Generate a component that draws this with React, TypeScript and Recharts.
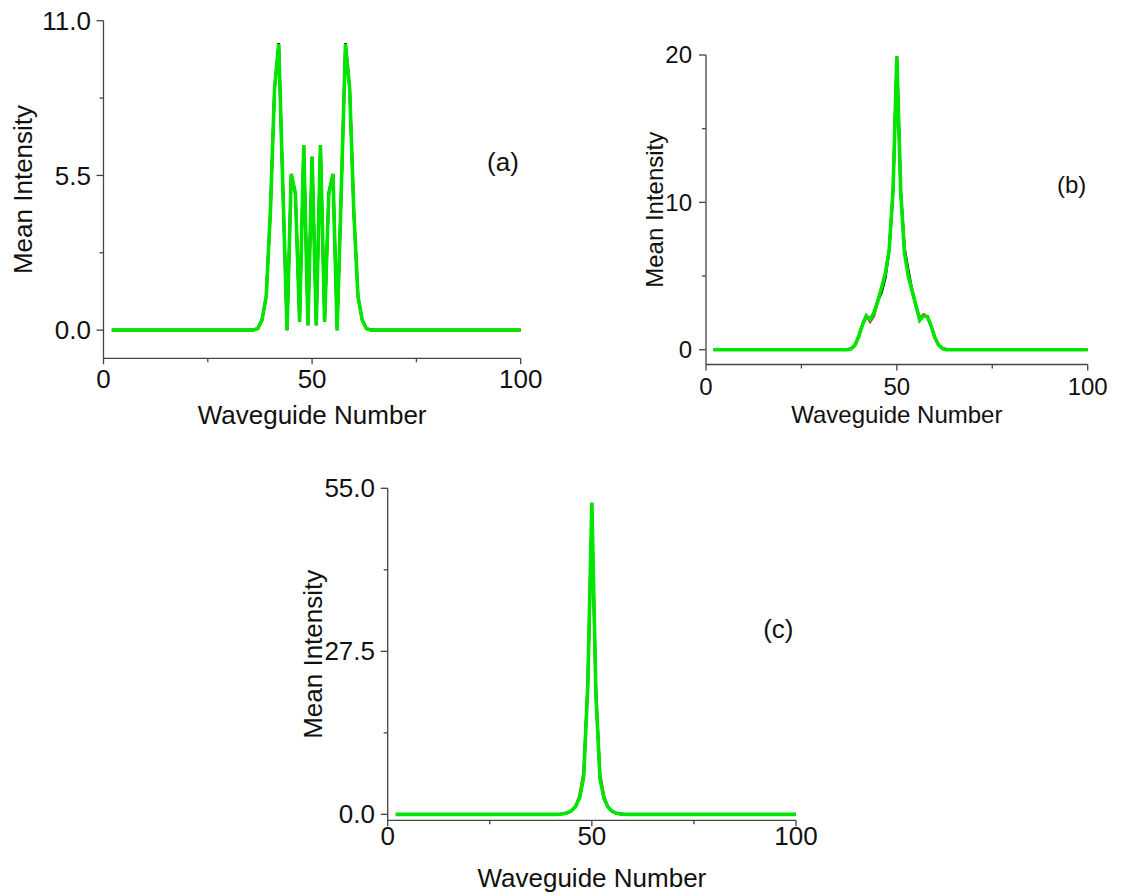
import React from 'react';
import { LineChart, Line, XAxis, YAxis } from 'recharts';

// waveguide index; flat zero stretches are only sampled at their ends
const WAVEGUIDE = [2, 34, 35, 36, 37, 38, 39, 40, 41, 42, 43, 44, 45, 46, 47, 48, 49, 50, 51, 52, 53, 54, 55, 56, 57, 58, 59, 60, 61, 62, 63, 64, 65, 66, 100];

// panel (a)
const A_BLACK = [0, 0, 0, 0.01, 0.06, 0.37, 1.2, 4.2, 8.6, 10.2, 5.0, 0, 5.55, 4.86, 0.3, 6.58, 0.18, 6.16, 0.18, 6.58, 0.3, 4.86, 5.55, 0, 5.0, 10.2, 8.6, 4.2, 1.2, 0.37, 0.06, 0.01, 0, 0, 0];
const A_RED = [0, 0, 0, 0.01, 0.06, 0.37, 1.2, 4.2, 8.6, 10.17, 5.0, 0, 5.55, 4.86, 0.3, 6.58, 0.18, 6.16, 0.18, 6.58, 0.3, 4.86, 5.55, 0, 5.0, 10.17, 8.6, 4.2, 1.2, 0.37, 0.06, 0.01, 0, 0, 0];
const A_GREEN = [0, 0, 0, 0.01, 0.06, 0.37, 1.2, 4.2, 8.6, 10.17, 5.0, 0, 5.55, 4.86, 0.3, 6.58, 0.18, 6.16, 0.18, 6.58, 0.3, 4.86, 5.55, 0, 5.0, 10.17, 8.6, 4.2, 1.2, 0.37, 0.06, 0.01, 0, 0, 0];

// panel (b)
const B_BLACK = [0, 0, 0, 0, 0.01, 0.06, 0.3, 0.9, 1.7, 2.3, 2.05, 2.5, 3.3, 3.9, 4.9, 6.8, 10.8, 19.9, 10.8, 6.9, 5.4, 4.0, 3.0, 2.0, 2.3, 2.25, 1.6, 0.8, 0.3, 0.08, 0.01, 0, 0, 0, 0];
const B_RED = [0, 0, 0, 0, 0.01, 0.06, 0.3, 0.9, 1.7, 2.3, 1.9, 2.3, 3.3, 4.2, 5.2, 6.8, 10.8, 19.9, 10.8, 6.6, 5.0, 4.0, 3.0, 2.15, 2.4, 2.25, 1.6, 0.8, 0.3, 0.08, 0.01, 0, 0, 0, 0];
const B_GREEN = [0, 0, 0, 0, 0.01, 0.06, 0.3, 0.9, 1.7, 2.3, 2.05, 2.5, 3.3, 4.2, 5.2, 6.8, 10.8, 19.9, 10.8, 6.6, 5.0, 4.0, 3.0, 2.0, 2.3, 2.25, 1.6, 0.8, 0.3, 0.08, 0.01, 0, 0, 0, 0];

// panel (c)
const C_BLACK = [0, 0, 0, 0, 0, 0, 0, 0, 0, 0.03, 0.1, 0.25, 0.6, 1.3, 2.8, 6.3, 22, 51, 21, 6, 2.6, 1.2, 0.5, 0.2, 0.08, 0.03, 0, 0, 0, 0, 0, 0, 0, 0, 0];
const C_RED = [0, 0, 0, 0, 0, 0, 0, 0, 0, 0.03, 0.1, 0.25, 0.6, 1.3, 3.2, 7.2, 21.6, 50, 20, 6.8, 3.0, 1.2, 0.5, 0.2, 0.08, 0.03, 0, 0, 0, 0, 0, 0, 0, 0, 0];
const C_GREEN = [0, 0, 0, 0, 0, 0, 0, 0, 0, 0.03, 0.1, 0.25, 0.6, 1.3, 2.8, 6.3, 21.6, 52.6, 20, 6, 2.6, 1.2, 0.5, 0.2, 0.08, 0.03, 0, 0, 0, 0, 0, 0, 0, 0, 0];

const X_TICKS = [0, 25, 50, 75, 100];
const X_MAJOR = [0, 50, 100];
const A_TICKS = [0, 2.75, 5.5, 8.25, 11];
const A_MAJOR = [0, 5.5, 11];
const B_TICKS = [0, 5, 10, 15, 20];
const B_MAJOR = [0, 10, 20];
const C_TICKS = [0, 13.75, 27.5, 41.25, 55];
const C_MAJOR = [0, 27.5, 55];

const FONT = '"Liberation Sans", Arial, sans-serif';
const INK = '#111';
const AXIS = '#444';

const build = (black: number[], red: number[], green: number[]) =>
  WAVEGUIDE.map((x, i) => ({ x, black: black[i], red: red[i], green: green[i] }));

const makeYTick = (majors: number[], digits: number, fontSize: number, gap: number) => (props: any) => {
  const { x, y, payload } = props;
  const major = majors.includes(payload.value);
  const len = major ? 7 : 4;
  return (
    <g>
      <line x1={x} y1={y} x2={x - len} y2={y} stroke={AXIS} strokeWidth={1.3} />
      {major && (
        <text x={x - gap} y={y} dy="0.35em" textAnchor="end" fontSize={fontSize} fill={INK} fontFamily={FONT}>
          {payload.value.toFixed(digits)}
        </text>
      )}
    </g>
  );
};

const makeXTick = (fontSize: number, baseline: number) => (props: any) => {
  const { x, y, payload } = props;
  const major = X_MAJOR.includes(payload.value);
  const len = major ? 6 : 4;
  return (
    <g>
      <line x1={x} y1={y} x2={x} y2={y + len} stroke={AXIS} strokeWidth={1.3} />
      {major && (
        <text x={x} y={y + baseline} textAnchor="middle" fontSize={fontSize} fill={INK} fontFamily={FONT}>
          {payload.value}
        </text>
      )}
    </g>
  );
};

const XTitle = ({ viewBox, fontSize, dy }: any) => (
  <text x={viewBox.x + viewBox.width / 2} y={viewBox.y + dy} textAnchor="middle" fontSize={fontSize} fill={INK} fontFamily={FONT}>
    Waveguide Number
  </text>
);

const YTitle = ({ viewBox, fontSize, bx }: any) => {
  const cy = viewBox.y + viewBox.height / 2;
  const x = viewBox.x + bx;
  return (
    <text x={x} y={cy} transform={`rotate(-90, ${x}, ${cy})`} textAnchor="middle" fontSize={fontSize} fill={INK} fontFamily={FONT}>
      Mean Intensity
    </text>
  );
};

interface PanelProps {
  data: Array<{ x: number; black: number; red: number; green: number }>;
  left: number;
  top: number;
  width: number;
  height: number;
  margin: { top: number; right: number; left: number; bottom: number };
  yWidth: number;
  xHeight: number;
  domain: [number, number];
  yTicks: number[];
  yMajor: number[];
  digits: number;
  fontSize: number;
  yGap: number;
  xBaseline: number;
  titleDy: number;
  yTitleX: number;
  tag: string;
  tagX: number;
  tagY: number;
}

const Panel = (p: PanelProps) => (
  <div style={{ position: 'absolute', left: p.left, top: p.top }}>
    <LineChart width={p.width} height={p.height} data={p.data} margin={p.margin}>
      <XAxis
        type="number"
        dataKey="x"
        domain={[0, 100]}
        ticks={X_TICKS}
        interval={0}
        height={p.xHeight}
        tickSize={0}
        tickMargin={0}
        tickLine={false}
        axisLine={{ stroke: AXIS, strokeWidth: 1.3 }}
        tick={makeXTick(p.fontSize, p.xBaseline)}
        allowDataOverflow
        label={<XTitle fontSize={p.fontSize} dy={p.titleDy} />}
      />
      <YAxis
        type="number"
        domain={p.domain}
        ticks={p.yTicks}
        interval={0}
        width={p.yWidth}
        tickSize={0}
        tickMargin={0}
        tickLine={false}
        axisLine={{ stroke: AXIS, strokeWidth: 1.3 }}
        tick={makeYTick(p.yMajor, p.digits, p.fontSize, p.yGap)}
        allowDataOverflow
        label={<YTitle fontSize={p.fontSize} bx={p.yTitleX} />}
      />
      <Line type="linear" dataKey="black" stroke="#000" strokeWidth={2.6} dot={false} isAnimationActive={false} />
      <Line type="linear" dataKey="red" stroke="#e02020" strokeWidth={2.6} dot={false} isAnimationActive={false} />
      <Line type="linear" dataKey="green" stroke="#00e600" strokeWidth={3.6} dot={false} isAnimationActive={false} />
      <text x={p.tagX} y={p.tagY} textAnchor="middle" fontSize={p.fontSize} fill={INK} fontFamily={FONT}>
        {p.tag}
      </text>
    </LineChart>
  </div>
);

export default function App() {
  return (
    <div style={{ position: 'absolute', left: 0, top: 0, width: 1121, height: 896, background: '#fff' }}>
      <Panel
        data={build(A_BLACK, A_RED, A_GREEN)}
        left={0}
        top={0}
        width={560}
        height={450}
        margin={{ top: 20.7, right: 39.3, left: 0, bottom: 0 }}
        yWidth={103.5}
        xHeight={91.7}
        domain={[-1, 11]}
        yTicks={A_TICKS}
        yMajor={A_MAJOR}
        digits={1}
        fontSize={26}
        yGap={12.6}
        xBaseline={30}
        titleDy={66}
        yTitleX={31.7}
        tag="(a)"
        tagX={503}
        tagY={171}
      />
      <Panel
        data={build(B_BLACK, B_RED, B_GREEN)}
        left={600}
        top={0}
        width={521}
        height={450}
        margin={{ top: 55, right: 33.3, left: 0, bottom: 0 }}
        yWidth={106}
        xHeight={85.5}
        domain={[-1, 20]}
        yTicks={B_TICKS}
        yMajor={B_MAJOR}
        digits={0}
        fontSize={24}
        yGap={14}
        xBaseline={30}
        titleDy={58.5}
        yTitleX={63}
        tag="(b)"
        tagX={471.7}
        tagY={193}
      />
      <Panel
        data={build(C_BLACK, C_RED, C_GREEN)}
        left={280}
        top={460}
        width={560}
        height={436}
        margin={{ top: 28.3, right: 44, left: 0, bottom: 0 }}
        yWidth={107.7}
        xHeight={75.7}
        domain={[-1, 55]}
        yTicks={C_TICKS}
        yMajor={C_MAJOR}
        digits={1}
        fontSize={26}
        yGap={12.7}
        xBaseline={24.5}
        titleDy={66.4}
        yTitleX={41.7}
        tag="(c)"
        tagX={498.3}
        tagY={177.5}
      />
    </div>
  );
}
